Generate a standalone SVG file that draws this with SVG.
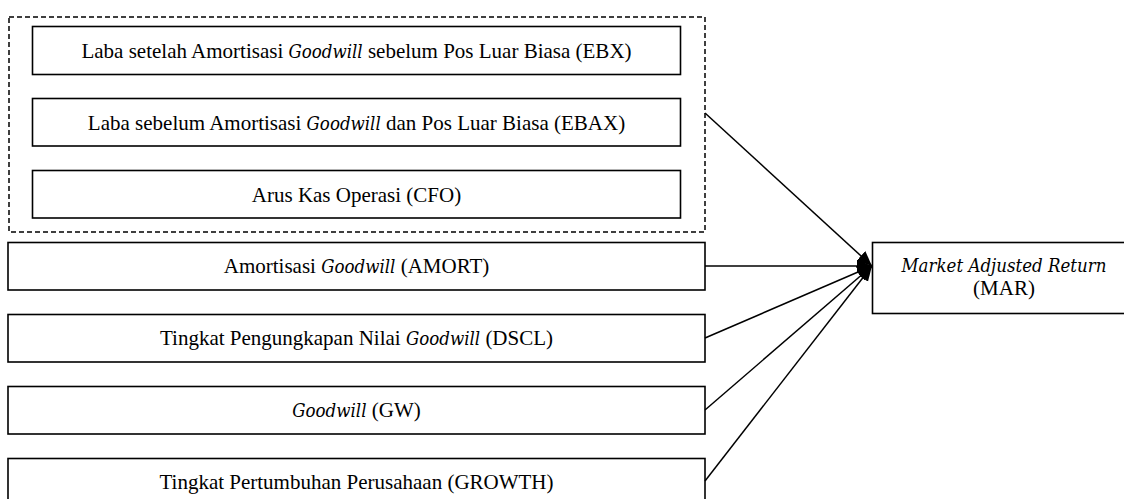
<svg xmlns="http://www.w3.org/2000/svg" width="1124" height="499" viewBox="0 0 1124 499">
<defs>
<style>
.box{fill:#fff;stroke:#000;stroke-width:1.6}
.grp{fill:none;stroke:#000;stroke-width:1.5;stroke-dasharray:5 3}
.t{font-family:"Liberation Serif","Times New Roman",serif;font-size:21px;fill:#000;text-anchor:middle}
.i{font-family:"DejaVu Serif Condensed","DejaVu Serif",serif;font-style:italic;font-size:18.5px}
.c{stroke:#000;stroke-width:1.5;fill:none;marker-end:url(#ah)}
</style>
<marker id="ah" markerUnits="userSpaceOnUse" markerWidth="16" markerHeight="14" refX="15" refY="6.5" orient="auto">
<path d="M0,0 L15,6.5 L0,13 Z" fill="#000"/>
</marker>
</defs>
<rect width="1124" height="499" fill="#fff"/>
<g id="group-laba">
<rect class="grp" x="9" y="17" width="696" height="215"/>
</g>
<g id="node-ebx">
<rect class="box" x="32.5" y="26.5" width="648" height="48"/>
<text class="t" x="356.5" y="57.5">Laba setelah Amortisasi <tspan class="i">Goodwill</tspan> sebelum Pos Luar Biasa (EBX)</text>
</g>
<g id="node-ebax">
<rect class="box" x="32.5" y="98.5" width="648" height="47.5"/>
<text class="t" x="356.5" y="129.5">Laba sebelum Amortisasi <tspan class="i">Goodwill</tspan> dan  Pos Luar Biasa (EBAX)</text>
</g>
<g id="node-cfo">
<rect class="box" x="32.5" y="170.5" width="648" height="47.5"/>
<text class="t" x="356.5" y="201.5">Arus Kas Operasi (CFO)</text>
</g>
<g id="node-amort">
<rect class="box" x="8" y="242.5" width="697" height="47.5"/>
<text class="t" x="356.5" y="273">Amortisasi <tspan class="i">Goodwill</tspan> (AMORT)</text>
</g>
<g id="node-dscl">
<rect class="box" x="8" y="314.5" width="697" height="47.5"/>
<text class="t" x="356.5" y="345">Tingkat Pengungkapan Nilai <tspan class="i">Goodwill</tspan> (DSCL)</text>
</g>
<g id="node-gw">
<rect class="box" x="8" y="386.5" width="697" height="47.5"/>
<text class="t" x="356.5" y="417"><tspan class="i">Goodwill</tspan> (GW)</text>
</g>
<g id="node-growth">
<rect class="box" x="8" y="458.5" width="697" height="48"/>
<text class="t" x="356.5" y="488.5">Tingkat Pertumbuhan Perusahaan (GROWTH)</text>
</g>
<g id="node-mar">
<rect class="box" x="872.5" y="242.5" width="264" height="71"/>
<text class="t i" x="1004" y="271.5">Market Adjusted Return</text>
<text class="t" x="1004" y="295">(MAR)</text>
</g>
<g id="connectors">
<line class="c" x1="705" y1="113" x2="872" y2="266"/>
<line class="c" x1="705" y1="266" x2="872" y2="266"/>
<line class="c" x1="705" y1="338" x2="872" y2="266"/>
<line class="c" x1="705" y1="410" x2="872" y2="266"/>
<line class="c" x1="705" y1="481" x2="872" y2="266"/>
</g>
</svg>
